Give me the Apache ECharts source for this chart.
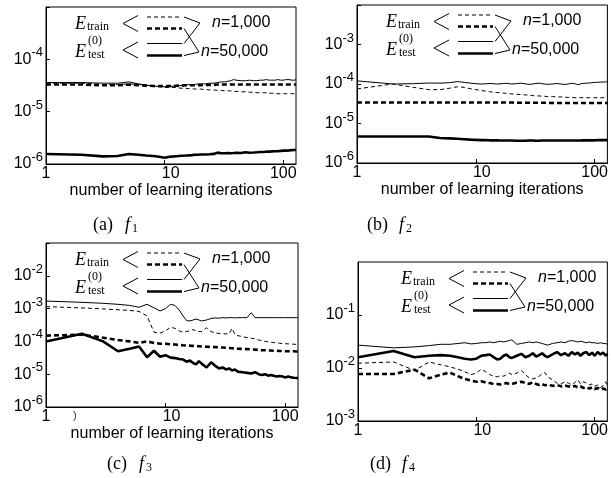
<!DOCTYPE html>
<html><head><meta charset="utf-8">
<script src="https://cdn.jsdelivr.net/npm/echarts@6/dist/echarts.min.js"></script>
<style>html,body{margin:0;padding:0;background:#fff}#c{width:611px;height:478px}</style>
</head><body><div id="c"></div>
<script>
// ---------------- data ----------------
const iterations = [1,2,3,4,5,6,7,8,9,10, 11,12,13,14,15,16,17,18,19,20, 22,24,26,28,30,32,34,36,38,40, 44,48,52,56,60,64,68,72,76,80, 85,90,95,100,106,112,118,124,128];

// (a) f1
const aTrain1k = [3.5e-5,3.5e-5,3.3e-5,3.3e-5,3.4e-5,3.3e-5,3.2e-5,3.1e-5,3.0e-5,2.9e-5, 2.9e-5,2.9e-5,2.85e-5,2.8e-5,2.8e-5,2.75e-5,2.75e-5,2.7e-5,2.7e-5,2.7e-5, 2.65e-5,2.6e-5,2.6e-5,2.55e-5,2.55e-5,2.5e-5,2.5e-5,2.5e-5,2.45e-5,2.45e-5, 2.4e-5,2.4e-5,2.35e-5,2.35e-5,2.3e-5,2.3e-5,2.3e-5,2.3e-5,2.25e-5,2.25e-5, 2.25e-5,2.2e-5,2.2e-5,2.2e-5,2.2e-5,2.2e-5,2.2e-5,2.2e-5,2.2e-5];
const aTrain50k = [3.3e-5,3.3e-5,3.2e-5,3.2e-5,3.3e-5,3.2e-5,3.15e-5,3.1e-5,3.1e-5,3.1e-5, 3.1e-5,3.1e-5,3.15e-5,3.15e-5,3.2e-5,3.2e-5,3.2e-5,3.2e-5,3.2e-5,3.2e-5, 3.25e-5,3.25e-5,3.25e-5,3.3e-5,3.3e-5,3.3e-5,3.3e-5,3.3e-5,3.3e-5,3.3e-5, 3.3e-5,3.3e-5,3.3e-5,3.3e-5,3.3e-5,3.3e-5,3.3e-5,3.3e-5,3.3e-5,3.3e-5, 3.3e-5,3.3e-5,3.3e-5,3.3e-5,3.3e-5,3.3e-5,3.3e-5,3.3e-5,3.3e-5];
const aTest1k = [3.6e-5,3.6e-5,3.5e-5,3.5e-5,3.7e-5,3.4e-5,3.2e-5,3.1e-5,3.0e-5,3.0e-5, 3.0e-5,3.1e-5,3.1e-5,3.2e-5,3.2e-5,3.3e-5,3.3e-5,3.3e-5,3.4e-5,3.4e-5, 3.4e-5,3.5e-5,3.5e-5,3.6e-5,3.7e-5,3.7e-5,3.8e-5,3.9e-5,4.1e-5,4.0e-5, 3.9e-5,3.9e-5,4.0e-5,3.9e-5,3.9e-5,4.0e-5,4.0e-5,4.1e-5,4.0e-5,4.0e-5, 4.0e-5,4.1e-5,4.0e-5,4.0e-5,4.1e-5,4.1e-5,4.0e-5,4.0e-5,4.1e-5];
const aTest50k = [1.55e-6,1.5e-6,1.4e-6,1.42e-6,1.55e-6,1.5e-6,1.45e-6,1.42e-6,1.38e-6,1.32e-6, 1.38e-6,1.4e-6,1.42e-6,1.44e-6,1.45e-6,1.46e-6,1.48e-6,1.5e-6,1.5e-6,1.52e-6, 1.52e-6,1.54e-6,1.56e-6,1.65e-6,1.6e-6,1.6e-6,1.62e-6,1.6e-6,1.62e-6,1.64e-6, 1.62e-6,1.68e-6,1.64e-6,1.66e-6,1.68e-6,1.7e-6,1.7e-6,1.72e-6,1.72e-6,1.74e-6, 1.75e-6,1.76e-6,1.78e-6,1.8e-6,1.8e-6,1.82e-6,1.84e-6,1.85e-6,1.86e-6];

// (b) f2
const bTrain1k = [7.5e-5,1.0e-4,8.2e-5,7.2e-5,7.2e-5,7.8e-5,8.5e-5,8.2e-5,7.6e-5,7.2e-5, 6.9e-5,6.6e-5,6.4e-5,6.2e-5,6.1e-5,6.0e-5,5.9e-5,5.8e-5,5.7e-5,5.6e-5, 5.5e-5,5.4e-5,5.3e-5,5.2e-5,5.1e-5,5.0e-5,5.0e-5,4.9e-5,4.9e-5,4.8e-5, 4.8e-5,4.7e-5,4.7e-5,4.6e-5,4.6e-5,4.6e-5,4.5e-5,4.5e-5,4.5e-5,4.5e-5, 4.5e-5,4.5e-5,4.5e-5,4.5e-5,4.5e-5,4.5e-5,4.5e-5,4.5e-5,4.5e-5];
const bTrain50k = [3.4e-5,3.4e-5,3.4e-5,3.4e-5,3.4e-5,3.4e-5,3.4e-5,3.4e-5,3.4e-5,3.4e-5, 3.4e-5,3.4e-5,3.4e-5,3.4e-5,3.4e-5,3.4e-5,3.4e-5,3.4e-5,3.4e-5,3.4e-5, 3.35e-5,3.35e-5,3.35e-5,3.35e-5,3.35e-5,3.35e-5,3.35e-5,3.35e-5,3.35e-5,3.35e-5, 3.3e-5,3.3e-5,3.3e-5,3.3e-5,3.3e-5,3.3e-5,3.3e-5,3.3e-5,3.3e-5,3.3e-5, 3.3e-5,3.3e-5,3.3e-5,3.3e-5,3.3e-5,3.3e-5,3.3e-5,3.3e-5,3.3e-5];
const bTest1k = [1.2e-4,1.0e-4,1.02e-4,1.06e-4,1.05e-4,1.08e-4,1.15e-4,1.1e-4,1.05e-4,1.02e-4, 1.0e-4,1.01e-4,1.03e-4,1.02e-4,1.0e-4,1.01e-4,1.03e-4,1.04e-4,1.02e-4,1.0e-4, 1.02e-4,1.05e-4,1.01e-4,0.98e-4,1.0e-4,1.03e-4,1.05e-4,1.02e-4,1.0e-4,0.98e-4, 1.0e-4,1.03e-4,1.0e-4,0.97e-4,1.0e-4,1.04e-4,1.02e-4,0.96e-4,1.0e-4,1.04e-4, 1.05e-4,1.06e-4,1.08e-4,1.1e-4,1.1e-4,1.12e-4,1.12e-4,1.13e-4,1.15e-4];
const bTest50k = [4.7e-6,4.7e-6,4.7e-6,4.7e-6,4.3e-6,4.2e-6,4.1e-6,4.0e-6,3.9e-6,3.85e-6, 3.8e-6,3.8e-6,3.75e-6,3.75e-6,3.75e-6,3.7e-6,3.7e-6,3.7e-6,3.7e-6,3.7e-6, 3.65e-6,3.65e-6,3.65e-6,3.7e-6,3.7e-6,3.65e-6,3.65e-6,3.7e-6,3.7e-6,3.7e-6, 3.7e-6,3.7e-6,3.7e-6,3.7e-6,3.7e-6,3.7e-6,3.7e-6,3.7e-6,3.7e-6,3.75e-6, 3.75e-6,3.75e-6,3.75e-6,3.75e-6,3.8e-6,3.8e-6,3.8e-6,3.8e-6,3.8e-6];

// (c) f3
const cTrain1k = [1.15e-3,1.05e-3,9.8e-4,9.2e-4,8.8e-4,8.2e-4,6.0e-4,1.9e-4,1.8e-4,2.1e-4, 2.7e-4,2.5e-4,2.1e-4,1.9e-4,2.0e-4,2.1e-4,2.3e-4,2.1e-4,2.0e-4,2.0e-4, 2.6e-4,2.0e-4,1.8e-4,1.75e-4,1.7e-4,1.7e-4,1.7e-4,2.5e-4,1.6e-4,1.5e-4, 1.4e-4,1.3e-4,1.25e-4,1.2e-4,1.1e-4,1.05e-4,1.0e-4,9.7e-5,9.4e-5,9.2e-5, 9.0e-5,8.8e-5,8.6e-5,8.5e-5,8.4e-5,8.3e-5,8.2e-5,8.1e-5,8.0e-5];
const cTrain50k = [1.5e-4,1.6e-4,1.3e-4,1.1e-4,1.0e-4,9.0e-5,1.0e-4,9.0e-5,8.5e-5,8.5e-5, 8.2e-5,8.0e-5,7.8e-5,7.6e-5,7.5e-5,7.4e-5,7.3e-5,7.2e-5,7.1e-5,7.0e-5, 6.9e-5,6.8e-5,6.7e-5,6.6e-5,6.5e-5,6.4e-5,6.3e-5,6.2e-5,6.1e-5,6.0e-5, 5.9e-5,5.8e-5,5.7e-5,5.6e-5,5.5e-5,5.4e-5,5.4e-5,5.3e-5,5.3e-5,5.2e-5, 5.2e-5,5.1e-5,5.1e-5,5.0e-5,5.0e-5,5.0e-5,5.0e-5,4.9e-5,4.9e-5];
const cTest1k = [1.7e-3,1.55e-3,1.45e-3,1.35e-3,1.25e-3,1.1e-3,1.35e-3,1.05e-3,8.5e-4,1.0e-3, 1.35e-3,1.25e-3,9.0e-4,6.0e-4,4.3e-4,4.2e-4,4.5e-4,4.8e-4,4.5e-4,4.2e-4, 4.5e-4,5.0e-4,5.2e-4,5.1e-4,5.3e-4,5.2e-4,5.3e-4,5.3e-4,5.2e-4,5.3e-4, 5.3e-4,5.3e-4,7.5e-4,5.3e-4,5.3e-4,5.3e-4,5.3e-4,5.3e-4,5.3e-4,5.3e-4, 5.3e-4,5.3e-4,5.3e-4,5.3e-4,5.3e-4,5.3e-4,5.3e-4,5.3e-4,5.3e-4];
const cTest50k = [1.0e-4,1.7e-4,1.0e-4,5.0e-5,6.0e-5,7.0e-5,3.3e-5,5.2e-5,3.4e-5,3.8e-5, 3.2e-5,3.1e-5,2.9e-5,2.8e-5,2.4e-5,2.6e-5,2.2e-5,2.0e-5,2.5e-5,2.1e-5, 1.6e-5,2.3e-5,1.8e-5,1.5e-5,1.6e-5,1.4e-5,1.5e-5,1.3e-5,1.4e-5,1.2e-5, 1.15e-5,1.1e-5,1.05e-5,1.15e-5,1.0e-5,9.5e-6,1.0e-5,9.0e-6,9.5e-6,9.0e-6, 8.5e-6,8.8e-6,8.5e-6,8.0e-6,8.5e-6,8.0e-6,7.8e-6,7.7e-6,7.5e-6];

// (d) f4
const dTrain1k = [1.23e-2,1.3e-2,9.0e-3,1.3e-2,1.15e-2,1.05e-2,9.5e-3,8.5e-3,7.5e-3,8.0e-3, 9.5e-3,8.5e-3,7.5e-3,7.0e-3,6.8e-3,7.2e-3,7.0e-3,7.5e-3,8.0e-3,7.5e-3, 8.0e-3,9.0e-3,7.5e-3,6.5e-3,6.2e-3,6.5e-3,7.0e-3,7.8e-3,8.2e-3,6.8e-3, 6.0e-3,5.2e-3,5.0e-3,5.5e-3,5.2e-3,4.8e-3,5.3e-3,6.0e-3,5.0e-3,5.5e-3, 5.2e-3,4.8e-3,5.0e-3,4.5e-3,4.8e-3,4.3e-3,4.6e-3,5.5e-3,4.5e-3];
const dTrain50k = [7.7e-3,7.7e-3,9.3e-3,6.4e-3,7.5e-3,8.2e-3,7.0e-3,6.2e-3,5.8e-3,5.5e-3, 5.6e-3,5.3e-3,5.2e-3,5.0e-3,5.0e-3,4.9e-3,5.0e-3,5.2e-3,5.0e-3,5.0e-3, 5.3e-3,5.5e-3,5.2e-3,5.0e-3,5.4e-3,5.0e-3,4.8e-3,5.0e-3,4.7e-3,4.9e-3, 4.6e-3,4.8e-3,4.5e-3,4.7e-3,4.5e-3,4.4e-3,4.6e-3,4.3e-3,4.5e-3,4.2e-3, 4.4e-3,4.1e-3,4.3e-3,4.0e-3,4.2e-3,3.9e-3,4.1e-3,3.9e-3,4.0e-3];
const dTest1k = [2.7e-2,2.4e-2,2.5e-2,2.65e-2,2.8e-2,2.8e-2,2.9e-2,3.0e-2,2.85e-2,2.9e-2, 3.0e-2,3.0e-2,3.1e-2,3.0e-2,3.1e-2,3.2e-2,3.1e-2,3.2e-2,3.3e-2,3.4e-2, 2.8e-2,2.9e-2,3.0e-2,3.1e-2,3.0e-2,3.1e-2,3.0e-2,2.9e-2,2.8e-2,2.7e-2, 2.9e-2,3.0e-2,3.1e-2,3.0e-2,3.2e-2,3.3e-2,3.2e-2,3.1e-2,3.2e-2,3.1e-2, 3.0e-2,3.1e-2,3.0e-2,3.0e-2,2.9e-2,3.0e-2,2.9e-2,2.9e-2,2.8e-2];
const dTest50k = [1.6e-2,2.1e-2,1.6e-2,1.7e-2,1.75e-2,1.7e-2,1.6e-2,1.5e-2,1.45e-2,1.5e-2, 1.7e-2,1.75e-2,1.8e-2,1.6e-2,1.45e-2,1.5e-2,1.7e-2,1.8e-2,1.6e-2,1.55e-2, 1.7e-2,1.85e-2,1.6e-2,1.7e-2,1.9e-2,1.65e-2,1.75e-2,1.9e-2,1.7e-2,1.6e-2, 1.8e-2,2.0e-2,1.75e-2,1.9e-2,1.7e-2,2.0e-2,1.8e-2,1.95e-2,1.7e-2,1.9e-2, 2.0e-2,1.75e-2,1.95e-2,1.7e-2,2.0e-2,1.8e-2,1.95e-2,1.7e-2,1.85e-2];

const xTickLabels = {1: '1', 10: '10', 100: '100'};
const xAxisTitle = 'number of learning iterations';
const xRange = [1, 128];
const yRanges = [[1e-6, 1e-3], [1e-6, 1e-2], [1e-6, 1e-1], [1e-3, 1]];
const captionLetters = ['(a)', '(b)', '(c)', '(d)'];
const captionSubs = ['1', '2', '3', '4'];
const legendSizes = ['n=1,000', 'n=50,000'];
const panels = [
  [aTrain1k, aTrain50k, aTest1k, aTest50k],
  [bTrain1k, bTrain50k, bTest1k, bTest50k],
  [cTrain1k, cTrain50k, cTest1k, cTest50k],
  [dTrain1k, dTrain50k, dTest1k, dTest50k]
];

// ---------------- layout / style ----------------
const GRIDS = [
  {left: 46, top: 7, width: 250, height: 157},
  {left: 357, top: 5, width: 252, height: 158},
  {left: 46, top: 243, width: 252, height: 164},
  {left: 358, top: 262, width: 250, height: 159}
];
const SHOW_XNAME = [true, true, true, false];
const LEG_OFF = [0, 0, 0, 14];
const CAPS = [{x: 93, y: 225}, {x: 367, y: 225}, {x: 107, y: 464}, {x: 370, y: 464}];
const STY = [
  {width: 1, type: [4, 3]},
  {width: 2.6, type: [5, 3]},
  {width: 1, type: 'solid'},
  {width: 2.6, type: 'solid'}
];
const SANS = '"Liberation Sans", Arial, sans-serif';
const SERIF = '"Liberation Serif", "Times New Roman", serif';

const grid = [], xAxis = [], yAxis = [], series = [], graphic = [];
GRIDS.forEach((g, i) => {
  grid.push({left: g.left, top: g.top, width: g.width, height: g.height, show: true,
    borderColor: '#000', borderWidth: 1, backgroundColor: 'transparent', containLabel: false});
  xAxis.push({
    type: 'log', logBase: 10, gridIndex: i, min: xRange[0], max: xRange[1],
    axisLine: {show: true, lineStyle: {color: '#000', width: 1}},
    axisTick: {show: true, inside: true, length: 4, lineStyle: {color: '#000'}},
    minorTick: {show: false}, splitLine: {show: false},
    axisLabel: {color: '#000', fontSize: 16, fontFamily: SANS, margin: 2, showMaxLabel: false,
      formatter: v => {
        const r = Math.round(v);
        const t = (Math.abs(v - r) < 1e-6) ? xTickLabels[r] : null;
        if (!t) return '';
        return r === 10 ? '{m|' + t + '}' : t;
      },
      rich: {m: {fontSize: 16, fontFamily: SANS, color: '#000', padding: [0, 0, 0, 12]}}},
    name: SHOW_XNAME[i] ? xAxisTitle : '', nameLocation: 'middle', nameGap: 17,
    nameTextStyle: {color: '#000', fontSize: 16, fontFamily: SANS}
  });
  const topExp = Math.round(Math.log10(yRanges[i][1]));
  yAxis.push({
    type: 'log', logBase: 10, gridIndex: i, min: yRanges[i][0], max: yRanges[i][1],
    axisLine: {show: true, lineStyle: {color: '#000', width: 1}},
    axisTick: {show: true, inside: true, length: 4, lineStyle: {color: '#000'}},
    minorTick: {show: false}, splitLine: {show: false},
    axisLabel: {color: '#000', margin: 3, showMaxLabel: false,
      formatter: v => {
        const e = Math.round(Math.log10(v));
        if (e >= topExp) return '';
        return '{b|10}{s|' + e + '}';
      },
      rich: {
        b: {fontSize: 16, fontFamily: SANS, color: '#000', lineHeight: 26},
        s: {fontSize: 13, fontFamily: SANS, color: '#000', lineHeight: 16, verticalAlign: 'top'}
      }}
  });
  panels[i].forEach((arr, k) => {
    series.push({
      type: 'line', xAxisIndex: i, yAxisIndex: i, showSymbol: false, symbol: 'none',
      animation: false, silent: true, z: 3,
      lineStyle: {color: '#000', width: STY[k].width, type: STY[k].type},
      data: iterations.map((x, j) => [x, arr[j]])
    });
  });

  // legend drawing
  const L = g.left + LEG_OFF[i], T = g.top;
  const ys = [10, 21.5, 36.5, 48.5];
  ys.forEach((yy, k) => {
    graphic.push({type: 'line', silent: true, z: 100,
      shape: {x1: L + 101, y1: T + yy, x2: L + 136, y2: T + yy},
      style: {stroke: '#000', lineWidth: STY[k].width, lineDash: STY[k].type === 'solid' ? null : STY[k].type}});
  });
  const poly = pts => ({type: 'polyline', silent: true, z: 100,
    shape: {points: pts.map(p => [L + p[0], T + p[1]])}, style: {stroke: '#000', lineWidth: 1, fill: 'none'}});
  graphic.push(poly([[92, 8.5], [77, 16.5], [92, 24.5]]));
  graphic.push(poly([[92, 35], [77, 43], [92, 51]]));
  graphic.push(poly([[138, 10], [154, 16], [138, 36.5]]));
  graphic.push(poly([[138, 21.5], [153, 45], [138, 48.5]]));
  const txt = (x, y, text, font, extra) => ({type: 'text', silent: true, z: 100,
    style: Object.assign({x: L + x, y: T + y, text: text, font: font, fill: '#000', verticalAlign: 'middle', align: 'left'}, extra || {})});
  graphic.push(txt(29, 17, 'E', 'italic 18px ' + SERIF));
  graphic.push(txt(41, 20, 'train', '12px ' + SERIF));
  graphic.push(txt(29, 45, 'E', 'italic 18px ' + SERIF));
  graphic.push(txt(42, 34, '(0)', '12px ' + SERIF));
  graphic.push(txt(42, 48, 'test', '12px ' + SERIF));
  const nRich = {i: {fontStyle: 'italic', fontSize: 16, fontFamily: SANS}, r: {fontSize: 16, fontFamily: SANS}};
  graphic.push(txt(166, 16, '{i|n}{r|' + legendSizes[0].slice(1) + '}', '16px ' + SANS, {rich: nRich}));
  graphic.push(txt(155, 45, '{i|n}{r|' + legendSizes[1].slice(1) + '}', '16px ' + SANS, {rich: nRich}));

  // caption
  const c = CAPS[i];
  graphic.push({type: 'text', silent: true, style: {x: c.x, y: c.y, text: captionLetters[i], font: '18px ' + SERIF, fill: '#000', verticalAlign: 'middle'}});
  graphic.push({type: 'text', silent: true, style: {x: c.x + 32, y: c.y, text: 'f', font: 'italic 18px ' + SERIF, fill: '#000', verticalAlign: 'middle'}});
  graphic.push({type: 'text', silent: true, style: {x: c.x + 39, y: c.y + 4, text: captionSubs[i], font: '12px ' + SERIF, fill: '#000', verticalAlign: 'middle'}});
});
// small scan mark beside the first tick label of panel (c)
graphic.push({type: 'text', silent: true, style: {x: 73, y: 416, text: ')', font: '11px ' + SANS, fill: '#333', verticalAlign: 'middle'}});

const chart = echarts.init(document.getElementById('c'), null, {renderer: 'canvas'});
chart.setOption({backgroundColor: '#fff', animation: false, grid, xAxis, yAxis, series, graphic});
</script>
</body></html>
